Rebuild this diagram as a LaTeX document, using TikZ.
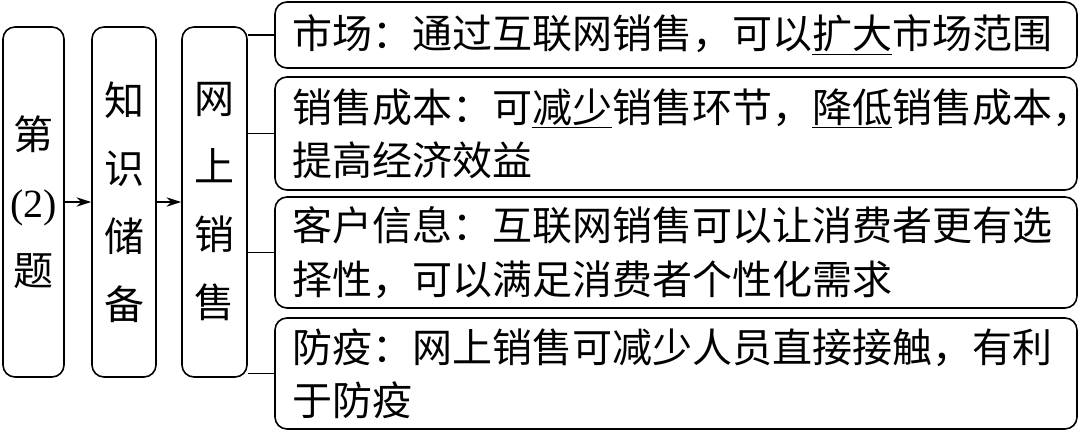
\documentclass[tikz,border=0pt]{standalone}
\usepackage{fontspec}
\usepackage{tikz}
\usetikzlibrary{arrows.meta}
\setmainfont{Liberation Serif}
\newfontfamily\cjk{Noto Sans CJK SC}
\newcommand{\keyword}[1]{\leavevmode\setbox0=\hbox{#1}\rlap{\rule[-0.16em]{\wd0}{1.2pt}}\box0}

\begin{document}
\begin{tikzpicture}[x=0.75pt,y=-0.75pt,line width=1.2pt,
  leftbox/.style={draw,rounded corners=9pt,align=center,inner sep=0pt,
    font=\cjk\fontsize{30}{51}\selectfont},
  infobox/.style={draw,rounded corners=9pt,align=left,inner xsep=12.75pt,
    text width=576pt,minimum width=601.5pt,font=\cjk\fontsize{30}{40}\selectfont},
  arr/.style={-{Stealth[length=11pt,width=7pt]}}]
\useasboundingbox (0,0) rectangle (1080,432);
% Draw the three upright boxes
\node[leftbox,minimum width=45.75pt,minimum height=262.5pt] (ti) at (33.5,202) {第\\{\rmfamily (2)}\\题};
\node[leftbox,minimum width=48pt,minimum height=262.5pt] (zhishi) at (124,202) {知\\识\\储\\备};
\node[leftbox,minimum width=48.75pt,minimum height=262.5pt] (wangshang) at (214.5,202) {网\\上\\销\\售};
% Draw the four boxes on the right
\node[infobox,minimum height=49.5pt] (shichang) at (676,35) {市场：通过互联网销售，可以\keyword{扩大}市场范围};
\node[infobox,minimum height=84.75pt] (chengben) at (676,133.5) {销售成本：可\keyword{减少}销售环节，\keyword{降低}销售成本，\\提高经济效益};
\node[infobox,minimum height=83.25pt] (kehu) at (676,252.5) {客户信息：互联网销售可以让消费者更有选\\择性，可以满足消费者个性化需求};
\node[infobox,minimum height=83.25pt] (fangyi) at (676,373.5) {防疫：网上销售可减少人员直接接触，有利\\于防疫};
% Arrows between the upright boxes
\draw[arr] (ti.east) -- (zhishi.west);
\draw[arr] (zhishi.east) -- (wangshang.west);
% Lines to the right boxes
\foreach \n in {shichang,chengben,kehu,fangyi}
  \draw (\n.west -| wangshang.east) -- (\n.west);
\end{tikzpicture}
\end{document}
